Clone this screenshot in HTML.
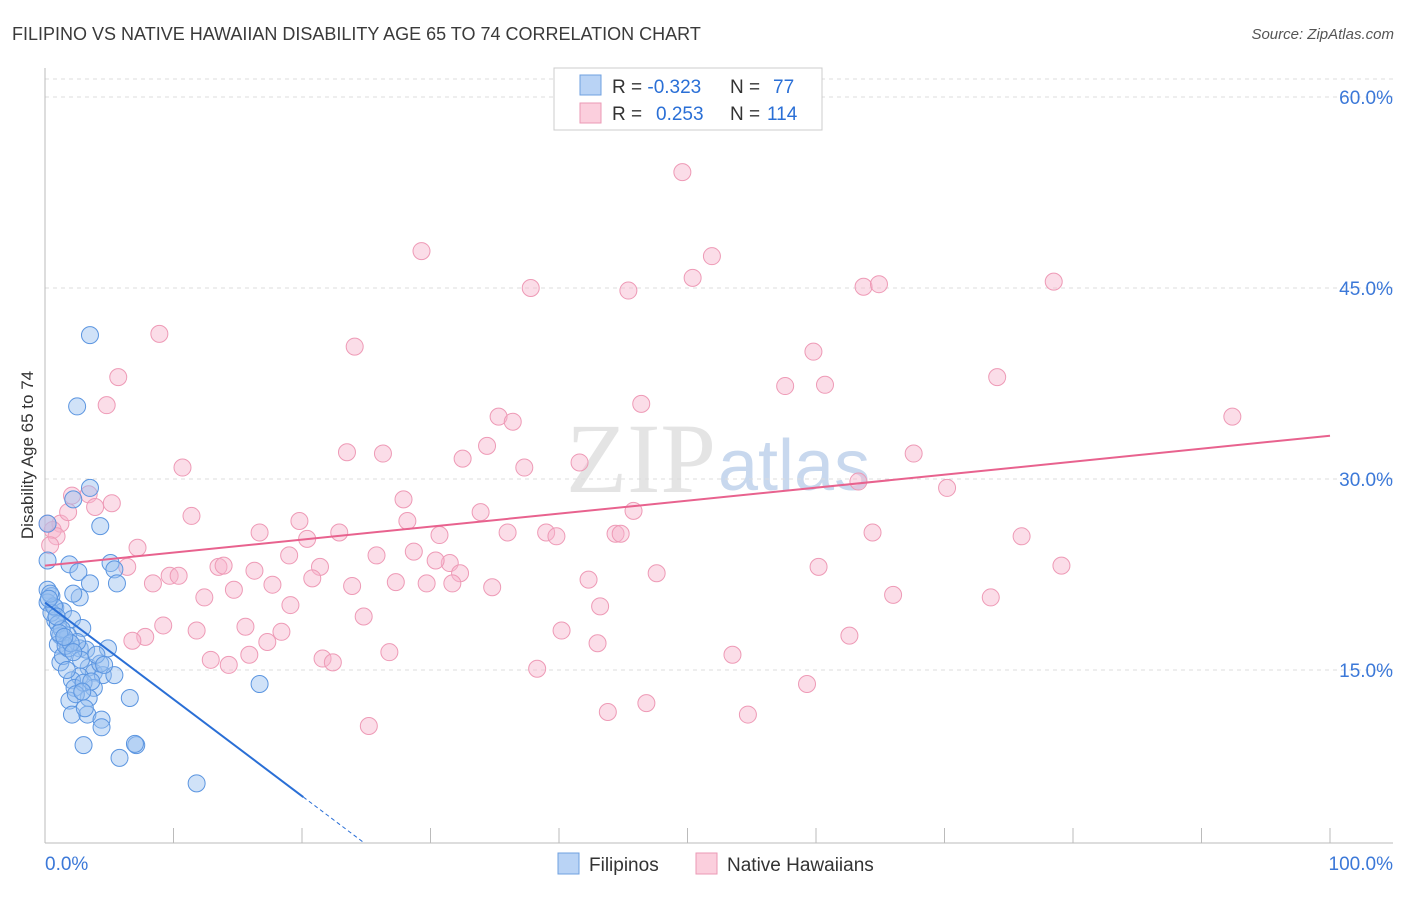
<!DOCTYPE html>
<html><head><meta charset="utf-8"><style>
body{margin:0;background:#fff;font-family:"Liberation Sans",sans-serif}
svg text{font-family:"Liberation Sans",sans-serif}
</style></head><body>
<svg id="chart" width="1406" height="892" viewBox="0 0 1406 892">
<text x="12" y="40" font-size="18" fill="#3a3a3a">FILIPINO VS NATIVE HAWAIIAN DISABILITY AGE 65 TO 74 CORRELATION CHART</text>
<text x="1394" y="39" font-size="15" fill="#555" text-anchor="end" font-style="italic">Source: ZipAtlas.com</text>
<text x="716" y="492" font-size="100" fill="#e4e4e4" text-anchor="end" style="font-family:'Liberation Serif',serif">ZIP</text>
<text x="718" y="490" font-size="72" fill="#c8d8ee">atlas</text>
<g id="grid"></g>
<g id="axes"></g>
<g id="pts"></g>
<g id="lines"></g>
<text transform="translate(33,455) rotate(-90)" font-size="17" fill="#333" text-anchor="middle">Disability Age 65 to 74</text>
<g>
<rect x="554" y="68" width="268" height="62" fill="#fff" stroke="#ccc"/>
<rect x="580" y="75" width="21" height="20" fill="#b9d3f5" stroke="#6fa0e0"/>
<rect x="580" y="103" width="21" height="20" fill="#fbcfdd" stroke="#eb9ab5"/>
<text x="612" y="93" font-size="19" fill="#333">R = <tspan fill="#2a6fd6">-0.323</tspan><tspan x="730">N = </tspan><tspan x="773" fill="#2a6fd6">77</tspan></text>
<text x="612" y="120" font-size="19" fill="#333">R = <tspan x="656" fill="#2a6fd6">0.253</tspan><tspan x="730">N = </tspan><tspan x="767" fill="#2a6fd6">114</tspan></text>
</g>
<g>
<rect x="558" y="853" width="21" height="21" fill="#b9d3f5" stroke="#6fa0e0"/>
<text x="589" y="871" font-size="19" fill="#333">Filipinos</text>
<rect x="696" y="853" width="21" height="21" fill="#fbcfdd" stroke="#eb9ab5"/>
<text x="727" y="871" font-size="19" fill="#333">Native Hawaiians</text>
</g>
</svg>
<script>
const yTicks=[15,30,45,60];
const yTickLabels=["15.0%","30.0%","45.0%","60.0%"];
const xTickLabels=["0.0%","100.0%"];
const filX=[3.5,2.5,3.5,2.2,4.3,0.2,0.2,1.9,5.1,2.6,5.4,3.5,5.6,0.2,2.7,2.2,0.5,0.2,0.8,1.4,2.1,2.9,0.8,1.2,1.5,1.8,1.0,2.7,4.9,3.2,1.2,3.4,3.8,2.7,4.5,2.1,2.3,3.8,1.9,3.4,6.6,2.1,3.3,4.4,4.4,3.0,7.1,5.8,11.8,16.7,4.3,5.4,1.4,1.8,0.5,1.0,2.5,1.6,3.0,0.7,1.3,2.8,4.0,0.4,1.1,2.0,3.6,2.4,7.0,1.7,0.9,3.1,2.2,1.5,4.6,0.3,2.9];
const filY=[41.3,35.7,29.3,28.4,26.3,26.5,23.6,23.3,23.4,22.7,22.9,21.8,21.8,21.3,20.7,21.0,20.8,20.3,19.9,19.6,19.0,18.3,18.9,17.7,17.4,17.7,17.0,16.7,16.7,16.6,15.6,15.2,14.8,14.5,14.6,14.2,13.6,13.6,12.6,12.8,12.8,11.5,11.5,11.1,10.5,9.1,9.1,8.1,6.1,13.9,15.5,14.6,16.1,16.7,19.5,18.6,17.2,16.9,14.0,20.0,18.2,15.8,16.2,21.0,17.9,17.1,14.1,13.1,9.2,15.0,19.2,12.0,16.4,17.6,15.4,20.6,13.3];
const hawX=[49.6,29.3,51.9,50.4,37.8,45.4,63.7,64.9,78.5,8.9,24.1,59.8,5.7,57.6,60.7,74.1,4.8,46.4,35.3,36.4,92.4,34.4,23.5,26.3,32.5,67.6,10.7,37.3,41.6,63.3,70.2,27.9,3.4,5.2,2.1,33.9,45.8,11.4,19.8,28.2,1.2,1.8,3.9,16.7,22.9,30.7,36.0,39.0,39.8,44.4,44.8,64.4,76.0,0.6,0.9,7.2,20.4,19.0,25.8,28.7,6.4,13.5,13.9,21.4,31.5,30.4,60.2,79.1,16.3,9.7,10.4,20.8,32.3,47.6,17.7,23.9,27.3,29.7,31.7,34.8,42.3,8.4,12.4,14.7,66.0,73.6,19.1,43.2,24.8,9.2,15.6,11.8,18.4,7.8,6.8,17.3,40.2,62.6,43.0,15.9,26.8,12.9,14.3,53.5,21.6,22.4,38.3,59.3,46.8,43.8,54.7,25.2,0.2,0.4];
const hawY=[54.1,47.9,47.5,45.8,45.0,44.8,45.1,45.3,45.5,41.4,40.4,40.0,38.0,37.3,37.4,38.0,35.8,35.9,34.9,34.5,34.9,32.6,32.1,32.0,31.6,32.0,30.9,30.9,31.3,29.8,29.3,28.4,28.8,28.1,28.7,27.4,27.5,27.1,26.7,26.7,26.5,27.4,27.8,25.8,25.8,25.6,25.8,25.8,25.5,25.7,25.7,25.8,25.5,26.0,25.5,24.6,25.3,24.0,24.0,24.3,23.1,23.1,23.2,23.1,23.4,23.6,23.1,23.2,22.8,22.4,22.4,22.2,22.6,22.6,21.7,21.6,21.9,21.8,21.8,21.5,22.1,21.8,20.7,21.3,20.9,20.7,20.1,20.0,19.2,18.5,18.4,18.1,18.0,17.6,17.3,17.2,18.1,17.7,17.1,16.2,16.4,15.8,15.4,16.2,15.9,15.6,15.1,13.9,12.4,11.7,11.5,10.6,26.5,24.8];
const filLine=[20.3,-0.76];
const hawLine=[23.2,0.102];
const NS="http://www.w3.org/2000/svg";
const X0=45,X1=1330,YB=861,YS=12.733;
function sx(v){return X0+(X1-X0)*v/100;}
function sy(v){return YB-v*YS;}
function mk(t,a,p){const e=document.createElementNS(NS,t);for(const k in a)e.setAttribute(k,a[k]);document.getElementById(p).appendChild(e);return e;}
yTicks.forEach((t,i)=>{
 const l=mk('line',{x1:45,x2:1393,y1:sy(t),y2:sy(t),stroke:'#ddd','stroke-dasharray':'4,4'},'grid');
 
 
 const tx=mk('text',{x:1393,y:sy(t)+7,'font-size':19,fill:'#3b78d8','text-anchor':'end'},'grid');
 tx.textContent=yTickLabels[i];
 
 
});
const topLine=mk('line',{x1:45,x2:1393,y1:79,y2:79,stroke:'#ddd','stroke-dasharray':'4,4'},'grid');


const ya=mk('line',{x1:45,x2:45,y1:68,y2:843,stroke:'#bbb'},'axes');


const xa=mk('line',{x1:45,x2:1393,y1:843,y2:843,stroke:'#bbb'},'axes');


for(let k=0;k<=10;k++){const t=mk('line',{x1:sx(k*10),x2:sx(k*10),y1:828,y2:843,stroke:'#bbb'},'axes');
 
 }
[[0,'start'],[100,'end']].forEach((p,i)=>{const t=mk('text',{x:i?1393:45,y:870,'font-size':19,fill:'#3b78d8','text-anchor':p[1]},'axes');t.textContent=xTickLabels[i];
 
 });
hawX.forEach((x,i)=>{const c=mk('circle',{cx:sx(x),cy:sy(hawY[i]),r:8.5,fill:'rgba(247,180,203,0.45)',stroke:'#ee9ab6','stroke-width':1},'pts');
 
 });
filX.forEach((x,i)=>{const c=mk('circle',{cx:sx(x),cy:sy(filY[i]),r:8.5,fill:'rgba(150,190,240,0.45)',stroke:'#5b95e0','stroke-width':1},'pts');
 
 });
const fEnd=20.1,fDash=24.8;
const fl=mk('line',{x1:sx(0),y1:sy(filLine[0]),x2:sx(fEnd),y2:sy(filLine[0]+filLine[1]*fEnd),stroke:'#2a6fd6','stroke-width':2},'lines');


const fd=mk('line',{x1:sx(fEnd),y1:sy(filLine[0]+filLine[1]*fEnd),x2:sx(fDash),y2:sy(filLine[0]+filLine[1]*fDash),stroke:'#2a6fd6','stroke-width':1,'stroke-dasharray':'4,3'},'lines');


const hl=mk('line',{x1:sx(0),y1:sy(hawLine[0]),x2:sx(100),y2:sy(hawLine[0]+hawLine[1]*100),stroke:'#e8628e','stroke-width':2},'lines');


</script>
</body></html>
